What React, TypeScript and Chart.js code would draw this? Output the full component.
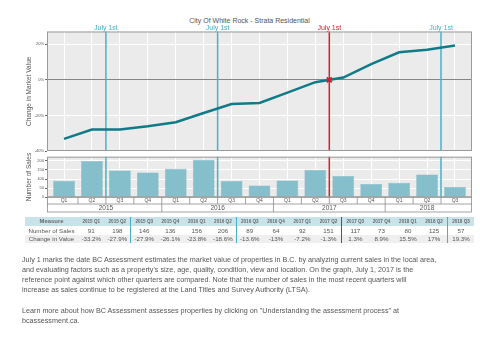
import React, { useEffect, useRef } from 'react';
import { Chart, registerables } from 'chart.js';

Chart.register(...registerables);

const quarters = ['2015 Q1', '2015 Q2', '2015 Q3', '2015 Q4', '2016 Q1', '2016 Q2', '2016 Q3', '2016 Q4', '2017 Q1', '2017 Q2', '2017 Q3', '2017 Q4', '2018 Q1', '2018 Q2', '2018 Q3'];
const quarterLabels = ['Q1', 'Q2', 'Q3', 'Q4', 'Q1', 'Q2', 'Q3', 'Q4', 'Q1', 'Q2', 'Q3', 'Q4', 'Q1', 'Q2', 'Q3'];
const years = ['2015', '2016', '2017', '2018'];
const yearCenters = [1.5, 5.5, 9.5, 13];
const yearBreaks = [3.5, 7.5, 11.5];
const sales = [91, 198, 146, 136, 156, 206, 89, 64, 92, 151, 117, 73, 80, 125, 57];
const changeValue = [-33.2, -27.9, -27.9, -26.1, -23.8, -18.6, -13.6, -13, -7.2, -1.3, 1.3, 8.9, 15.5, 17, 19.3];
const changeLabels = ['-33.2%', '-27.9%', '-27.9%', '-26.1%', '-23.8%', '-18.6%', '-13.6%', '-13%', '-7.2%', '-1.3%', '1.3%', '8.9%', '15.5%', '17%', '19.3%'];
const july1st = [1.5, 5.5, 9.5, 13.5];
const july1stColors = ['#48b1c5', '#48b1c5', '#c3272e', '#48b1c5'];
const referencePoint = [{ x: 9.5, y: 0 }];
const changeTicks = [-40, -20, 0, 20];
const salesTicks = [0, 50, 100, 150, 200];

const FONT = '"Liberation Sans", Arial, sans-serif';
const GREY_TEXT = '#555555';
const X_MIN = -0.61;
const X_MAX = 14.61;

function panelPlugin(opts: { labels?: boolean; rows?: boolean }) {
  return {
    id: 'panel' + (opts.labels ? 'L' : '') + (opts.rows ? 'R' : ''),
    beforeDraw(chart: any) {
      const { ctx, chartArea: a } = chart;
      ctx.save();
      ctx.fillStyle = '#ebebeb';
      ctx.fillRect(a.left, a.top, a.width, a.height);
      ctx.restore();
    },
    beforeDatasetsDraw(chart: any) {
      const { ctx, chartArea: a, scales } = chart;
      ctx.save();
      ctx.lineWidth = 1.5;
      july1st.forEach((v, i) => {
        const x = scales.x.getPixelForValue(v);
        ctx.strokeStyle = july1stColors[i];
        ctx.beginPath();
        ctx.moveTo(x, a.top);
        ctx.lineTo(x, a.bottom);
        ctx.stroke();
      });
      ctx.restore();
    },
    afterDraw(chart: any) {
      const { ctx, chartArea: a, scales } = chart;
      ctx.save();
      ctx.strokeStyle = '#9a9a9a';
      ctx.lineWidth = 1;
      ctx.strokeRect(a.left + 0.5, a.top + 0.5, a.width - 1, a.height - 1);
      if (opts.labels) {
        ctx.font = '7px ' + FONT;
        ctx.textAlign = 'center';
        ctx.textBaseline = 'middle';
        july1st.forEach((v, i) => {
          ctx.fillStyle = july1stColors[i];
          ctx.fillText('July 1st', scales.x.getPixelForValue(v), a.top - 3.5);
        });
      }
      if (opts.rows) {
        const xs = scales.x;
        const y0 = a.bottom;
        const y1 = a.bottom + 6.7;
        const y2 = a.bottom + 14.7;
        const line = (x1: number, ya: number, x2: number, yb: number) => {
          ctx.beginPath();
          ctx.moveTo(x1, ya);
          ctx.lineTo(x2, yb);
          ctx.stroke();
        };
        ctx.strokeStyle = '#8c8c8c';
        ctx.lineWidth = 0.8;
        ctx.strokeRect(a.left + 0.5, y0, a.width - 1, y2 - y0);
        line(a.left, y1, a.right, y1);
        for (let i = 0; i < quarters.length - 1; i++) {
          const px = xs.getPixelForValue(i + 0.5);
          line(px, y0, px, y1);
        }
        yearBreaks.forEach((b) => {
          const px = xs.getPixelForValue(b);
          line(px, y1, px, y2);
        });
      }
      ctx.restore();
    },
  };
}

const xGrid = {
  color: '#ffffff',
  lineWidth: 1,
  drawTicks: false,
  offset: false,
};

export default function App() {
  const lineRef = useRef<HTMLCanvasElement>(null);
  const barRef = useRef<HTMLCanvasElement>(null);

  useEffect(() => {
    document.body.style.margin = '0';
    const lineChart = new Chart(lineRef.current as HTMLCanvasElement, {
      type: 'line',
      data: {
        datasets: [
          {
            type: 'scatter',
            data: referencePoint,
            pointStyle: 'crossRot',
            pointRadius: 3.5,
            borderColor: '#c3272e',
            backgroundColor: '#c3272e',
            pointBorderWidth: 2,
            order: 0,
          } as any,
          {
            data: changeValue.map((v, i) => ({ x: i, y: v })),
            borderColor: '#117a89',
            borderWidth: 2.5,
            pointRadius: 0,
            tension: 0,
            fill: false,
            order: 1,
          },
        ],
      },
      options: {
        responsive: false,
        animation: false,
        events: [],
        layout: { padding: { top: 31.5, right: 27, bottom: 5, left: 0 } },
        plugins: { legend: { display: false }, tooltip: { enabled: false }, title: { display: false } },
        scales: {
          x: {
            type: 'linear',
            min: X_MIN,
            max: X_MAX,
            offset: false,
            grid: xGrid,
            border: { display: false },
            ticks: { display: false },
            afterBuildTicks: (axis: any) => {
              axis.ticks = quarters.map((_, i) => ({ value: i }));
            },
            afterFit: (axis: any) => {
              axis.height = 0;
            },
          },
          y: {
            type: 'linear',
            min: -40,
            max: 27.2,
            border: { display: false },
            grid: {
              color: (c: any) => (c.tick && c.tick.value === 0 ? '#858585' : '#ffffff'),
              lineWidth: 1,
              drawTicks: true,
              tickLength: 2,
              tickColor: '#666666',
            },
            ticks: {
              color: GREY_TEXT,
              font: { size: 4, family: FONT },
              padding: 1,
              callback: (v: any) => v + '%',
            },
            afterBuildTicks: (axis: any) => {
              axis.ticks = changeTicks.map((v) => ({ value: v }));
            },
            title: {
              display: true,
              text: 'Change in Market Value',
              color: GREY_TEXT,
              font: { size: 6.5, family: FONT },
              padding: { top: 25, bottom: 0 },
            },
            afterFit: (axis: any) => {
              axis.width = 47;
            },
          },
        },
      },
      plugins: [panelPlugin({ labels: true })],
    } as any);

    const barChart = new Chart(barRef.current as HTMLCanvasElement, {
      type: 'bar',
      data: {
        datasets: [
          {
            data: sales.map((v, i) => ({ x: i, y: v })),
            backgroundColor: '#86bfcc',
            borderColor: '#78b3c1',
            borderWidth: 0.5,
            barPercentage: 0.78,
            categoryPercentage: 1,
          },
        ],
      },
      options: {
        responsive: false,
        animation: false,
        events: [],
        layout: { padding: { top: 3.7, right: 27, bottom: 3, left: 0 } },
        plugins: { legend: { display: false }, tooltip: { enabled: false }, title: { display: false } },
        scales: {
          x: {
            type: 'linear',
            min: X_MIN,
            max: X_MAX,
            offset: false,
            weight: 0,
            grid: xGrid,
            border: { display: false },
            ticks: {
              autoSkip: false,
              maxRotation: 0,
              color: GREY_TEXT,
              font: { size: 5, family: FONT },
              padding: 0.5,
              callback: (_v: any, i: number) => quarterLabels[i],
            },
            afterBuildTicks: (axis: any) => {
              axis.ticks = quarters.map((_, i) => ({ value: i }));
            },
            afterFit: (axis: any) => {
              axis.height = 6.7;
            },
          },
          x2: {
            type: 'linear',
            position: 'bottom',
            min: X_MIN,
            max: X_MAX,
            offset: false,
            weight: 1,
            grid: { display: false, drawTicks: false },
            border: { display: false },
            ticks: {
              autoSkip: false,
              maxRotation: 0,
              color: GREY_TEXT,
              font: { size: 6.5, family: FONT },
              padding: 0,
              callback: (_v: any, i: number) => years[i],
            },
            afterBuildTicks: (axis: any) => {
              axis.ticks = yearCenters.map((v) => ({ value: v }));
            },
            afterFit: (axis: any) => {
              axis.height = 8;
            },
          },
          y: {
            type: 'linear',
            min: 0,
            max: 222,
            border: { display: false },
            grid: {
              color: '#ffffff',
              lineWidth: 1,
              drawTicks: true,
              tickLength: 2,
              tickColor: '#666666',
            },
            ticks: {
              color: GREY_TEXT,
              font: { size: 4, family: FONT },
              padding: 1,
            },
            afterBuildTicks: (axis: any) => {
              axis.ticks = salesTicks.map((v) => ({ value: v }));
            },
            title: {
              display: true,
              text: 'Number of Sales',
              color: GREY_TEXT,
              font: { size: 6.5, family: FONT },
              padding: { top: 25, bottom: 0 },
            },
            afterFit: (axis: any) => {
              axis.width = 47;
            },
          },
        },
      },
      plugins: [panelPlugin({ rows: true })],
    } as any);

    return () => {
      lineChart.destroy();
      barChart.destroy();
    };
  }, []);

  const sepIndex = (i: number) => july1st.indexOf(i - 0.5);
  const cellStyle = (i: number, header: boolean): React.CSSProperties => {
    const s = sepIndex(i);
    return {
      padding: 0,
      textAlign: 'center',
      fontWeight: header ? 'bold' : 'normal',
      fontSize: header ? 4.6 : 6.2,
      color: header ? '#6a6a6a' : GREY_TEXT,
      whiteSpace: 'nowrap',
      overflow: 'hidden',
      borderLeft: s >= 0 ? `1.5px solid ${july1stColors[s]}` : 'none',
    };
  };
  const firstCol: React.CSSProperties = { padding: 0, textAlign: 'center', whiteSpace: 'nowrap', fontSize: 6.2, color: GREY_TEXT };

  return (
    <div style={{ position: 'absolute', left: 0, top: 0, width: 499, height: 341, overflow: 'hidden', background: '#ffffff', fontFamily: FONT, color: GREY_TEXT }}>
      <div style={{ position: 'absolute', left: 0, top: 16, width: 499, textAlign: 'center', fontSize: 7, lineHeight: '9px', color: GREY_TEXT }}>
        City Of White Rock - Strata Residential
      </div>
      <canvas ref={lineRef} width={499} height={157} style={{ position: 'absolute', left: 0, top: 0, width: 499, height: 157 }} />
      <canvas ref={barRef} width={499} height={62} style={{ position: 'absolute', left: 0, top: 153, width: 499, height: 62 }} />
      <table style={{ position: 'absolute', left: 25, top: 216.5, width: 449, borderCollapse: 'collapse', tableLayout: 'fixed', fontFamily: FONT }}>
        <colgroup>
          <col style={{ width: 53 }} />
          {quarters.map((q) => (
            <col key={q} style={{ width: 26.4 }} />
          ))}
        </colgroup>
        <tbody>
          <tr style={{ background: '#c8e3ea', height: 9 }}>
            <th style={{ ...firstCol, fontWeight: 'bold', fontSize: 5.9, color: '#6a6a6a' }}>Measure</th>
            {quarters.map((q, i) => (
              <th key={q} style={cellStyle(i, true)}>{q}</th>
            ))}
          </tr>
          <tr style={{ background: '#ffffff', height: 9 }}>
            <td style={firstCol}>Number of Sales</td>
            {sales.map((v, i) => (
              <td key={i} style={cellStyle(i, false)}>{v}</td>
            ))}
          </tr>
          <tr style={{ background: '#efefef', height: 8.5 }}>
            <td style={firstCol}>Change in Value</td>
            {changeLabels.map((v, i) => (
              <td key={i} style={cellStyle(i, false)}>{v}</td>
            ))}
          </tr>
        </tbody>
      </table>
      <div style={{ position: 'absolute', left: 22, top: 255, fontSize: 7.2, lineHeight: '10px', whiteSpace: 'nowrap', color: GREY_TEXT }}>
        July 1 marks the date BC Assessment estimates the market value of properties in B.C. by analyzing current sales in the local area,<br />
        and evaluating factors such as a property's size, age, quality, condition, view and location. On the graph, July 1, 2017 is the<br />
        reference point against which other quarters are compared. Note that the number of sales in the most recent quarters will<br />
        increase as sales continue to be registered at the Land Titles and Survey Authority (LTSA).
      </div>
      <div style={{ position: 'absolute', left: 22, top: 306, fontSize: 7.2, lineHeight: '10px', whiteSpace: 'nowrap', color: GREY_TEXT }}>
        Learn more about how BC Assessment assesses properties by clicking on "Understanding the assessment process" at<br />
        bcassessment.ca.
      </div>
    </div>
  );
}
